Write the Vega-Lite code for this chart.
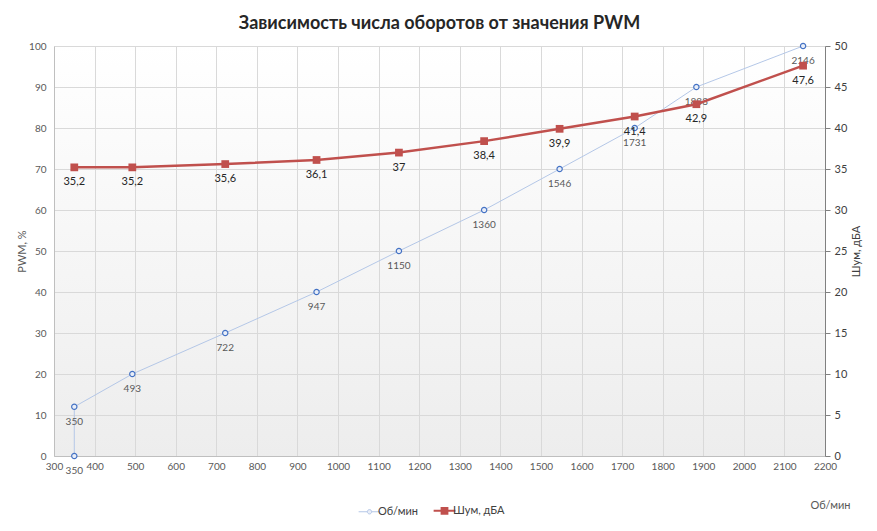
{
  "$schema": "https://vega.github.io/schema/vega-lite/v6.json",
  "width": 771,
  "height": 410,
  "autosize": {"type": "none"},
  "padding": {"left": 54, "top": 46, "right": 52, "bottom": 75},
  "background": "white",
  "title": {"text": "Зависимость числа оборотов от значения PWM", "offset": 7},
  "data": {
    "values": [
      {"rpm": 350, "pwm": 0, "noise": null},
      {"rpm": 350, "pwm": 12, "noise": 35.2},
      {"rpm": 493, "pwm": 20, "noise": 35.2},
      {"rpm": 722, "pwm": 30, "noise": 35.6},
      {"rpm": 947, "pwm": 40, "noise": 36.1},
      {"rpm": 1150, "pwm": 50, "noise": 37},
      {"rpm": 1360, "pwm": 60, "noise": 38.4},
      {"rpm": 1546, "pwm": 70, "noise": 39.9},
      {"rpm": 1731, "pwm": 80, "noise": 41.4},
      {"rpm": 1883, "pwm": 90, "noise": 42.9},
      {"rpm": 2146, "pwm": 100, "noise": 47.6}
    ]
  },
  "layer": [
    {
      "encoding": {
        "x": {
          "field": "rpm", "type": "quantitative",
          "scale": {"domain": [300, 2200], "nice": false},
          "axis": {
            "title": "Об/мин", "tickCount": 19, "format": "d", "grid": true,
            "ticks": false, "labelPadding": 5, "labelFontSize": 10, "labelFlush": false,
            "titleX": 776, "titleY": 49, "titleAlign": "center", "titleBaseline": "middle"
          }
        },
        "y": {
          "field": "pwm", "type": "quantitative",
          "scale": {"domain": [0, 100], "nice": false},
          "axis": {
            "title": "PWM, %", "orient": "left", "tickCount": 10, "grid": true,
            "ticks": false, "labelPadding": 8, "labelFontSize": 10,
            "titleX": -32, "titleY": 205, "titleAngle": -90, "titleAlign": "center", "titleBaseline": "middle"
          }
        }
      },
      "layer": [
        {
          "mark": {"type": "line", "strokeWidth": 1},
          "encoding": {
            "order": {"field": "pwm", "type": "quantitative"},
            "color": {
              "datum": "Об/мин",
              "scale": {"domain": ["Об/мин", "Шум, дБА"], "range": ["#B4C7E7", "#C0504D"]},
              "legend": {
                "title": null, "orient": "none", "legendX": 310, "legendY": 459,
                "direction": "horizontal", "symbolSize": 210, "columnPadding": 10, "labelOffset": 3,
                "labelFont": "Lato", "labelFontSize": 11, "labelColor": "#404040",
                "encode": {
                  "symbols": {
                    "update": {
                      "shape": {"signal": "datum.value === 'Об/мин' ? 'M-1.5,0H-0.3M0.3,0H1.5M-0.3,0A0.3,0.3,0,1,1,0.3,0A0.3,0.3,0,1,1,-0.3,0Z' : 'M-1.5,0H1.5M-0.4,-0.4H0.4V0.4H-0.4Z'"},
                      "fill": {"signal": "datum.value === 'Об/мин' ? '#E9EEF8' : '#C0504D'"},
                      "stroke": {"signal": "datum.value === 'Об/мин' ? '#7F9FD6' : '#C0504D'"},
                      "strokeWidth": {"signal": "datum.value === 'Об/мин' ? 1 : 2"}
                    }
                  }
                }
              }
            }
          }
        },
        {
          "mark": {"type": "point", "shape": "circle", "filled": true, "fill": "#E9EEF8", "stroke": "#4472C4", "strokeWidth": 1.2, "size": 28, "opacity": 1}
        },
        {
          "mark": {"type": "text", "dy": 15, "fontSize": 10, "font": "Lato", "color": "#595959"},
          "encoding": {"text": {"field": "rpm", "type": "quantitative", "format": "d"}}
        }
      ]
    },
    {
      "transform": [{"filter": "isValid(datum.noise)"}],
      "encoding": {
        "x": {"field": "rpm", "type": "quantitative"},
        "y": {
          "field": "noise", "type": "quantitative",
          "scale": {"domain": [0, 50], "nice": false},
          "axis": {
            "title": "Шум, дБА", "orient": "right", "tickCount": 10, "grid": false,
            "domain": true, "domainColor": "#808080", "ticks": true, "tickColor": "#808080", "tickSize": 5,
            "labelPadding": 4, "labelColor": "#404040",
            "titleX": 31, "titleY": 205, "titleAngle": -90, "titleAlign": "center", "titleBaseline": "middle", "titleColor": "#404040"
          }
        }
      },
      "layer": [
        {
          "mark": {"type": "line", "strokeWidth": 2.5},
          "encoding": {
            "order": {"field": "rpm", "type": "quantitative"},
            "color": {"datum": "Шум, дБА"}
          }
        },
        {
          "mark": {"type": "square", "filled": true, "color": "#C0504D", "size": 60, "opacity": 1}
        },
        {
          "mark": {"type": "text", "dy": 15, "fontSize": 11, "font": "Lato", "color": "#262626"},
          "encoding": {"text": {"field": "noise", "type": "quantitative", "format": ".1~f"}}
        }
      ]
    }
  ],
  "resolve": {"scale": {"y": "independent"}},
  "config": {
    "locale": {"number": {"decimal": ",", "thousands": " ", "grouping": [3], "currency": ["", ""]}},
    "font": "Lato",
    "title": {"font": "Lato", "fontSize": 18, "fontWeight": "bold", "color": "#262626", "anchor": "middle"},
    "view": {
      "stroke": null,
      "fill": {"gradient": "linear", "x1": 0, "y1": 0, "x2": 0, "y2": 1, "stops": [{"offset": 0, "color": "#ffffff"}, {"offset": 1, "color": "#ededed"}]}
    },
    "axis": {
      "labelFont": "Lato", "labelFontSize": 11, "labelColor": "#595959",
      "titleFont": "Lato", "titleFontSize": 11, "titleFontWeight": "normal", "titleColor": "#595959",
      "gridColor": "#D9D9D9", "gridWidth": 1, "domainColor": "#BFBFBF"
    }
  }
}
